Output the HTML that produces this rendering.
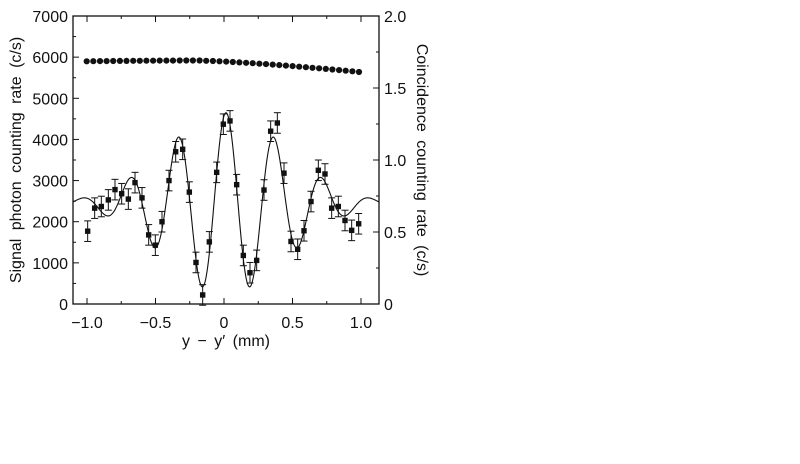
<!DOCTYPE html>
<html><head><meta charset="utf-8"><style>
html,body{margin:0;padding:0;background:#fff;width:800px;height:464px;overflow:hidden}
text{font-family:"Liberation Sans",sans-serif;fill:#111}
</style></head><body>
<svg id="s" width="800" height="464" xmlns="http://www.w3.org/2000/svg">
<rect x="73" y="16" width="306" height="288" fill="none" stroke="#111" stroke-width="1.3"/>
<g id="g"></g>
<text x="21" y="160" font-size="16" word-spacing="4" text-anchor="middle" transform="rotate(-90 21 160)">Signal photon counting rate (c/s)</text>
<text x="417" y="160" font-size="16" word-spacing="4" text-anchor="middle" transform="rotate(90 417 160)">Coincidence counting rate (c/s)</text>
<text x="226" y="346" font-size="16" word-spacing="3" text-anchor="middle">y − y′ (mm)</text>
</svg>
<script>
var g=document.getElementById('g'),h='';
function X(v){return 224+137*v}
function Y(v){return 304-v*288/7000}
for(var v=0;v<=7000;v+=500){var y=Y(v),L=v%1000==0?6:3;
 h+='<line x1="73" x2="'+(73+L)+'" y1="'+y+'" y2="'+y+'" stroke="#111"/>';
 if(v%1000==0)h+='<text x="68" y="'+(y+6)+'" font-size="16" text-anchor="end">'+v+'</text>';}
for(var i=0;i<=8;i++){var y=304-i*36,L=i%2==0?6:3;
 h+='<line x1="379" x2="'+(379-L)+'" y1="'+y+'" y2="'+y+'" stroke="#111"/>';
 if(i%2==0)h+='<text x="384" y="'+(y+6)+'" font-size="16">'+['0','0.5','1.0','1.5','2.0'][i/2]+'</text>';}
var lab={'-1':'−1.0','-0.5':'−0.5','0':'0','0.5':'0.5','1':'1.0'};
for(var k=-4;k<=4;k++){var v=k*0.25,x=X(v),L=k%2==0?6:3;
 h+='<line x1="'+x+'" x2="'+x+'" y1="304" y2="'+(304-L)+'" stroke="#111"/><line x1="'+x+'" x2="'+x+'" y1="16" y2="'+(16+L)+'" stroke="#111"/>';
 if(k%2==0)h+='<text x="'+x+'" y="328" font-size="16" text-anchor="middle">'+lab[String(v)]+'</text>';}
var p='';
for(var px=73;px<=379;px+=0.5){var v=(px-226)/137;
 var f=2450+2200*Math.cos(2*Math.PI*v/0.35)*Math.exp(-Math.pow(v/0.62,2));
 p+=(p?'L':'M')+px.toFixed(1)+' '+Y(f).toFixed(1);}
h+='<path d="'+p+'" fill="none" stroke="#111" stroke-width="1.1"/>';
var d=[[263,1770],[284,2330],[304,2370],[325,2530],[345,2780],[365,2680],[385,2550],[405,2950],[426,2580],[446,1680],[466,1430],[486,2000],[507,3000],[527,3700],[548,3760],[568,2720],[588,1010],[608,220],[628,1510],[650,3200],[670,4370],[690,4450],[710,2900],[730,1180],[750,760],[770,1060],[792,2770],[812,4200],[832,4400],[852,3180],[873,1520],[893,1330],[912,1780],[933,2490],[955,3250],[975,3160],[995,2330],[1015,2370],[1035,2030],[1055,1790],[1076,1950]];
d.forEach(function(q){var x=q[0]/3,y=Y(q[1]),e=250*288/7000;
 h+='<line x1="'+x+'" x2="'+x+'" y1="'+(y-e)+'" y2="'+(y+e)+'" stroke="#111"/>';
 h+='<line x1="'+(x-3.5)+'" x2="'+(x+3.5)+'" y1="'+(y-e)+'" y2="'+(y-e)+'" stroke="#111"/>';
 h+='<line x1="'+(x-3.5)+'" x2="'+(x+3.5)+'" y1="'+(y+e)+'" y2="'+(y+e)+'" stroke="#111"/>';
 h+='<rect x="'+(x-2.7)+'" y="'+(y-2.7)+'" width="5.4" height="5.4" fill="#111"/>';});
for(var i=0;i<42;i++){var x=(260+i*(1077-260)/41)/3,v=i/41;
 var val=5900+20*Math.sin(v*Math.PI)-260*Math.pow(Math.max(0,v-0.4)/0.6,1.3);
 h+='<circle cx="'+x.toFixed(1)+'" cy="'+Y(val).toFixed(1)+'" r="3.1" fill="#111"/>';}
g.innerHTML=h;
</script>
</body></html>
